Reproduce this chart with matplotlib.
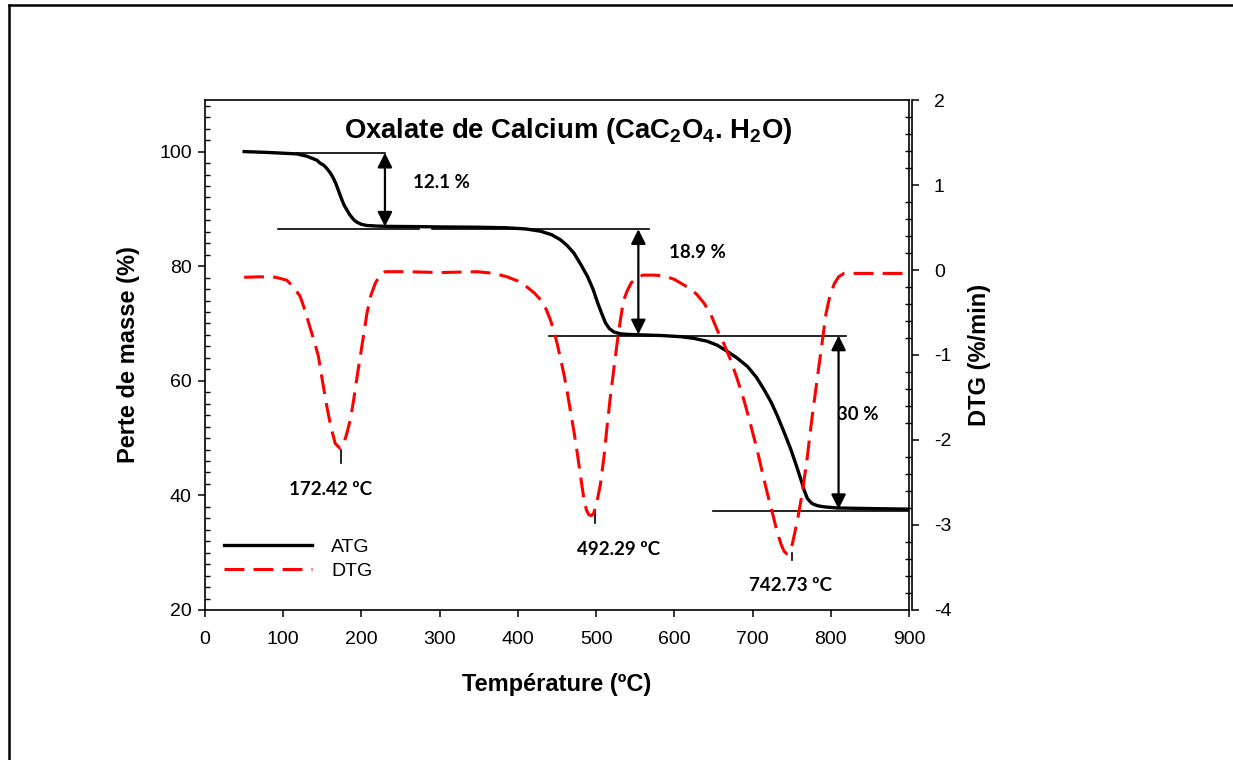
import matplotlib
matplotlib.use("Agg")
import matplotlib.pyplot as plt
from matplotlib.lines import Line2D
from matplotlib.ticker import MultipleLocator

plt.rcParams['font.family'] = ['Liberation Sans', 'DejaVu Sans']
plt.rcParams['mathtext.fontset'] = 'custom'
plt.rcParams['mathtext.rm'] = 'Liberation Sans:bold'
plt.rcParams['mathtext.it'] = 'Liberation Sans:bold'
plt.rcParams['mathtext.bf'] = 'Liberation Sans:bold'
plt.rcParams['axes.unicode_minus'] = False

# ATG curve (mass loss, %)
temp_atg = [50, 80, 117, 130, 143, 147, 152, 156, 160, 163.5, 167, 170, 173, 175.5, 178,
            181, 183.5, 186, 189, 191, 194, 197, 200, 207,
            220, 232, 275, 300, 350, 386, 410, 429, 443, 454.5, 463, 471.5, 480, 489,
            496, 502, 507, 512, 517, 523, 531, 540, 560, 583, 608, 625, 642, 655, 668,
            680, 693.5, 705, 715, 724, 732, 741, 749, 756, 762, 766, 770, 773, 776, 779,
            783, 789, 795, 808.5, 850, 898]
atg = [100.0, 99.85, 99.6, 99.2, 98.5, 98.0, 97.6, 97.0, 96.3, 95.5, 94.5, 93.4, 92.3,
       91.4, 90.6, 89.9, 89.3, 88.8, 88.3, 88.0, 87.7, 87.5, 87.3, 87.1, 87.0, 86.95,
       86.9, 86.85, 86.8, 86.7, 86.5, 86.1, 85.5, 84.6, 83.6,
       82.3, 80.4, 78.2, 76.0, 73.6, 71.8, 70.1, 69.1, 68.5, 68.2, 68.1, 68.0, 67.9,
       67.7, 67.4, 66.9, 66.2, 65.1, 64.0, 62.5, 60.6, 58.4, 56.2, 53.8, 50.8, 48.0,
       45.2, 42.7, 40.9, 39.5, 39.0, 38.6, 38.4, 38.2, 38.05, 37.95, 37.8, 37.7, 37.6]

# DTG curve (%/min)
temp_dtg = [50, 70, 90, 104.5, 113, 121.6, 128, 134, 140, 145, 150, 155.8, 161, 166.4,
            172.8, 177, 181.4, 186, 190, 194, 198.4, 203, 207, 212, 217.6, 223, 230.4,
            258, 300, 348, 370, 386, 400, 411.6, 421, 429, 436, 441.7, 446, 450, 454,
            458.7, 463, 467, 472, 476, 480, 484, 487.5, 490.7, 494, 497, 501, 505.7, 510,
            514, 518.5, 523, 527, 531, 535, 540, 545, 552.5, 560, 574, 587, 600, 616.6,
            628, 638, 647, 655, 664, 672, 680, 689, 697, 706, 713, 719, 726, 732, 737,
            740.4, 744, 746.8, 751, 757.5, 764, 770, 776, 783, 789, 794, 799, 804.6, 810,
            817, 850, 898]
dtg = [-0.086, -0.08, -0.085, -0.12, -0.2, -0.31, -0.48, -0.67, -0.85, -1.02, -1.3, -1.61,
       -1.85, -2.04, -2.10, -2.05, -1.92, -1.75, -1.53, -1.28, -1.02, -0.75, -0.51, -0.3,
       -0.157, -0.07, -0.02, -0.02, -0.03, -0.02, -0.04, -0.08, -0.13, -0.2, -0.27, -0.35,
       -0.46, -0.59, -0.72, -0.86, -1.02, -1.22, -1.43, -1.65, -1.92, -2.16, -2.42, -2.67,
       -2.82, -2.88, -2.89, -2.86, -2.73, -2.51, -2.2, -1.84, -1.47, -1.14, -0.85, -0.59,
       -0.36, -0.24, -0.15, -0.09, -0.06, -0.06, -0.07, -0.11, -0.2, -0.28, -0.39, -0.53,
       -0.71, -0.88, -1.06, -1.27, -1.53, -1.8, -2.12, -2.4, -2.63, -2.88, -3.1, -3.24,
       -3.31, -3.34, -3.33, -3.22, -2.94, -2.6, -2.2, -1.74, -1.26, -0.85, -0.51, -0.3,
       -0.16, -0.08, -0.04, -0.04, -0.04]

dtg_ticks = [-4, -3, -2, -1, 0, 1, 2]
dtg_ticklabels = ['-4', '-3', '-2', '-1', '0', '1', '2']

# step levels (left axis) and the mass-loss arrows
levels = [99.8, 86.55, 86.45, 67.9, 37.3]
level_from = [117, 93, 290, 440, 650]
level_to = [230, 273, 567, 820, 900]
arrow_x = [230, 554, 810]
arrow_top = [99.8, 86.45, 67.9]
arrow_bottom = [86.9, 68.1, 37.6]
loss_labels = ['12.1 %', '18.9 %', '30 %']
loss_pos = [(302, 94.6), (630, 82.4), (808, 54.2)]
loss_ha = ['center', 'center', 'left']

# DTG peak labels
peak_labels = ['172.42 ºC', '492.29 ºC', '742.73 ºC']
peak_text_pos = [(160, 41.0), (529, 30.6), (748, 24.2)]
peak_mark_x = [173.5, 499, 751]
peak_mark_top = [47.9, 37.5, 30.0]
peak_mark_bottom = [45.7, 35.2, 28.7]

fig = plt.figure(figsize=(12.33, 7.6), dpi=100)
ax = fig.add_axes([0.1663, 0.1974, 0.5709, 0.6710])
ax2 = ax.twinx()

l1, = ax.plot(temp_atg, atg, color='black', lw=2.4, label='ATG', zorder=4)
l2, = ax2.plot(temp_dtg, dtg, color='red', lw=2.2, dashes=(6.5, 3), label='DTG')

ax.set_xlim(0, 900)
ax.set_ylim(20, 109)
ax2.set_ylim(-4, 2)

for y, x0, x1 in zip(levels, level_from, level_to):
    ax.plot([x0, x1], [y, y], color='black', lw=1.2, zorder=3)

for x, y0, y1 in zip(arrow_x, arrow_top, arrow_bottom):
    ax.annotate('', xy=(x, y1), xytext=(x, y0),
                arrowprops=dict(arrowstyle='<|-|>', color='black', lw=1.6,
                                mutation_scale=22, shrinkA=0, shrinkB=0), zorder=5)

for txt, (x, y), ha in zip(loss_labels, loss_pos, loss_ha):
    ax.text(x, y, txt, ha=ha, va='center', fontsize=13.5, fontweight='bold',
            family='Lato', zorder=2)

for txt, (x, y) in zip(peak_labels, peak_text_pos):
    ax.text(x, y, txt, ha='center', va='center', fontsize=13.5, fontweight='bold',
            family='Lato')

for x, y0, y1 in zip(peak_mark_x, peak_mark_top, peak_mark_bottom):
    ax.plot([x, x], [y0, y1], color='black', lw=1.2)

ax.text(0.516, 0.94, r'Oxalate de Calcium (CaC$_2$O$_4$. H$_2$O)', transform=ax.transAxes,
        ha='center', va='center', fontsize=19.8, fontweight='bold')

# axes and ticks
ax.xaxis.set_major_locator(MultipleLocator(100))
ax.yaxis.set_major_locator(MultipleLocator(20))
ax.yaxis.set_minor_locator(MultipleLocator(2))
ax.tick_params(axis='x', which='major', direction='out', length=5, width=1.1,
               labelsize=14, pad=10, top=False)
ax.tick_params(axis='y', which='major', direction='out', length=5, width=1.1,
               labelsize=14, pad=4.5, right=False)
ax.tick_params(axis='y', which='minor', direction='in', length=3.6, width=1.0, right=False)

ax2.set_yticks(dtg_ticks)
ax2.set_yticklabels(dtg_ticklabels, ha='right')
ax2.yaxis.set_minor_locator(MultipleLocator(0.2))
ax2.tick_params(axis='y', which='major', direction='out', length=5, width=1.1,
                labelsize=14, pad=10.5)
ax2.tick_params(axis='y', which='minor', direction='in', length=5.3, width=1.0)
ax2.spines['right'].set_position(('outward', 2.5))
for s in ['top', 'left', 'bottom']:
    ax2.spines[s].set_visible(False)
for s in ax.spines.values():
    s.set_linewidth(1.2)
ax2.spines['right'].set_linewidth(1.2)

ax.set_xlabel('Température (ºC)', fontsize=17, fontweight='bold', labelpad=18)
ax.set_ylabel('Perte de masse (%)', fontsize=17, fontweight='bold', labelpad=14)
ax2.set_ylabel('DTG (%/min)', fontsize=17, fontweight='bold', labelpad=12)

ax.legend([l1, l2], ['ATG', 'DTG'], loc='upper left', bbox_to_anchor=(0.027, 0.141),
          frameon=False, fontsize=14, handlelength=4.5, handletextpad=1.0,
          labelspacing=0.35, borderpad=0, borderaxespad=0)

# frame around the figure (top and left edges)
fig.add_artist(Line2D([0.0073, 1.0], [0.9934, 0.9934], color='black', lw=1.8,
                      transform=fig.transFigure))
fig.add_artist(Line2D([0.0073, 0.0073], [0.0, 0.9934], color='black', lw=1.8,
                      transform=fig.transFigure))

fig.savefig('out.png', dpi=100)
